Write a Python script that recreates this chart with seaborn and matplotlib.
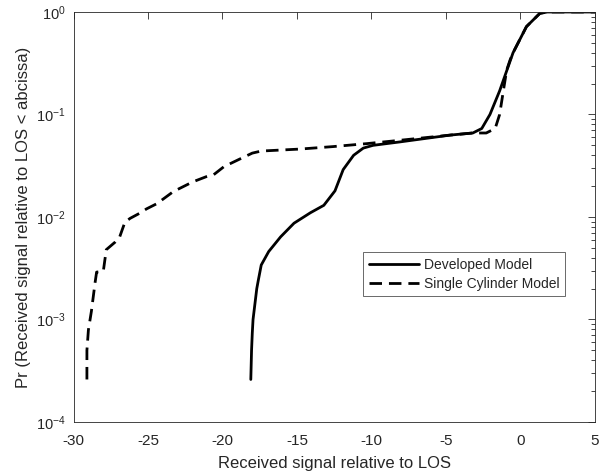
import matplotlib
matplotlib.use("Agg")
import matplotlib.pyplot as plt
import seaborn as sns
import pandas as pd
import numpy as np
from matplotlib.ticker import LogLocator, NullFormatter

dev_x = [-18.1, -18.05, -18.0, -17.95, -17.7, -17.6, -17.4, -16.9, -16.1, -15.2, -14.1, -13.2,
         -12.45, -11.9, -11.2, -10.55, -9.9, -8.1, -4.7, -3.2, -2.6, -2.05, -1.4, -0.5, 0.4, 1.3, 1.8, 5.0]
dev_y = [2.6e-4, 5e-4, 7.4e-4, 1e-3, 2.0e-3, 2.4e-3, 3.4e-3, 4.6e-3, 6.4e-3, 8.7e-3, 0.011, 0.013,
         0.018, 0.029, 0.040, 0.047, 0.050, 0.054, 0.063, 0.066, 0.073, 0.10, 0.17, 0.40, 0.72, 0.97, 1.0, 1.0]

sc_x = [-29.1, -29.1, -29.0, -28.8, -28.55, -28.45, -28.0, -27.8, -27.2, -26.9, -26.55, -26.2, -25.5,
        -25.1, -24.4, -23.3, -22.0, -21.1, -20.6, -19.9, -18.8, -18.0, -17.4, -14.8, -12.6, -10.3, -8.1,
        -4.7, -3.2, -2.3, -1.7, -1.4, -1.15, -0.93, -0.7, -0.5, 0.4, 1.3, 1.8, 5.0]
sc_y = [2.6e-4, 5e-4, 7.9e-4, 1.2e-3, 2.3e-3, 2.9e-3, 2.95e-3, 4.8e-3, 5.7e-3, 6.4e-3, 8.9e-3, 9.7e-3, 0.011,
        0.012, 0.0135, 0.0177, 0.022, 0.0247, 0.0258, 0.031, 0.037, 0.042, 0.044, 0.046, 0.0486, 0.052, 0.056,
        0.063, 0.066, 0.066, 0.073, 0.10, 0.17, 0.27, 0.34, 0.40, 0.72, 0.97, 1.0, 1.0]

labels = ["Developed Model", "Single Cylinder Model"]
x_ticks = [-30, -25, -20, -15, -10, -5, 0, 5]

sns.set_style("white")
plt.rcParams['font.family'] = ['Liberation Sans', 'DejaVu Sans']
plt.rcParams['mathtext.fontset'] = 'custom'
plt.rcParams['mathtext.rm'] = 'Liberation Sans'
plt.rcParams['mathtext.it'] = 'Liberation Sans:italic'

fig = plt.figure(figsize=(6.01, 4.74), dpi=100)
ax = fig.add_axes([0.1223, 0.1097, 0.8677, 0.865])

axc = (0.15, 0.15, 0.15)
df1 = pd.DataFrame({"x": dev_x, "y": dev_y})
df2 = pd.DataFrame({"x": sc_x, "y": sc_y})
sns.lineplot(data=df1, x="x", y="y", ax=ax, color="black", lw=2, estimator=None, sort=False,
             label=labels[0])
sns.lineplot(data=df2, x="x", y="y", ax=ax, color="black", lw=2, estimator=None, sort=False,
             label=labels[1], dashes=False)
ax.lines[1].set_dashes([4.5, 2.5])

ax.set_yscale("log")
ax.set_xlim(-30, 5)
ax.set_ylim(1e-4, 1)
ax.set_xticks(x_ticks)
ax.set_xticklabels([str(t) for t in x_ticks])
ax.yaxis.set_major_locator(LogLocator(base=10, numticks=10))
ax.yaxis.set_minor_locator(LogLocator(base=10, subs=np.arange(2, 10), numticks=20))
ax.yaxis.set_minor_formatter(NullFormatter())

ax.set_xlabel("Received signal relative to LOS", fontsize=12, color=axc, labelpad=6)
ax.set_ylabel("Pr (Received signal relative to LOS < abcissa)", fontsize=12, color=axc, labelpad=4)
ax.tick_params(axis="both", which="major", direction="in", length=5, width=0.6, colors=axc,
               top=True, right=True)
ax.tick_params(axis="x", which="major", labelsize=11, pad=8.5)
ax.tick_params(axis="y", which="major", labelsize=10.5, pad=5.5)
ax.tick_params(axis="both", which="minor", direction="in", length=3, width=0.6, colors=axc,
               top=True, right=True)
for s in ax.spines.values():
    s.set_color(axc)
    s.set_linewidth(0.6)

leg = ax.legend(loc="upper left", bbox_to_anchor=(0.5552, 0.4135), fontsize=10, frameon=True,
                fancybox=False, edgecolor=axc, handlelength=3.6, borderpad=0.4, labelspacing=0.35,
                handletextpad=0.4, borderaxespad=0)
leg.get_frame().set_linewidth(0.6)

fig.savefig("out.png", dpi=100)
